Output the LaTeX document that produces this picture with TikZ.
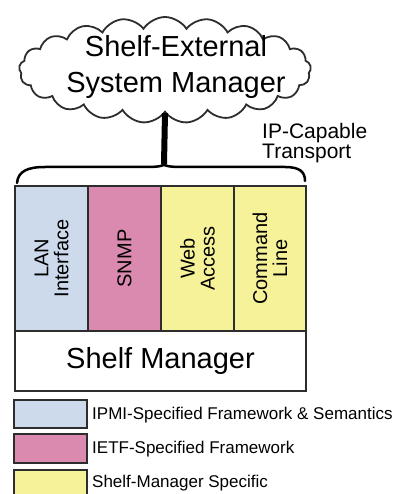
\documentclass[tikz,border=0pt]{standalone}
\usepackage{fontspec}
\setmainfont{Liberation Sans}
\usetikzlibrary{shapes.symbols}
\definecolor{ipmi}{RGB}{204,218,236}
\definecolor{ietf}{RGB}{217,138,174}
\definecolor{smspec}{RGB}{246,242,154}
\definecolor{edge}{RGB}{45,45,45}
\begin{document}
\begin{tikzpicture}[x=1pt,y=-1pt,
  colbox/.style={draw=edge, line width=1.4pt, rotate=90, minimum width=145pt,
    minimum height=73pt, inner sep=0pt, align=center,
    font=\fontsize{20}{20}\selectfont},
  keybox/.style={draw=edge, line width=1.4pt, minimum width=73pt,
    minimum height=28pt, inner sep=0pt},
  keytext/.style={anchor=west, inner sep=0pt, font=\fontsize{17}{20}\selectfont}]
\useasboundingbox (0,0) rectangle (397,494);

% external manager cloud
\node[cloud, draw=edge, line width=1.8pt, cloud puffs=21, cloud puff arc=115,
  cloud ignores aspect, minimum width=292pt, minimum height=106pt] (ext) at (165,70) {};
\node[align=center, inner sep=0pt, font=\fontsize{29}{36}\selectfont] (extlabel)
  at (176,67) {Shelf-External\\System Manager};

% transport stem and brace
\coordinate (btop) at (164,164);
\draw[line width=6pt] (ext.south) -- (btop);
\draw[line width=2.5pt, line cap=round]
  (17,183) .. controls (18,171) and (28,167) .. (45,167) -- (145,167)
  .. controls (158,167) and (164,166) .. (btop)
  .. controls (164,166) and (170,167) .. (183,167) -- (285,167)
  .. controls (300,167) and (305,172) .. (305,181);
\node[align=left, anchor=west, inner sep=0pt, font=\fontsize{21}{20}\selectfont]
  (transport) at (262,143) {IP-Capable\\Transport};

% interface columns
\node[colbox, fill=ipmi] (lan) at (51.5,258.5) {LAN\\Interface};
\node[colbox, fill=ietf] (snmp) at (124.5,258.5) {SNMP};
\node[colbox, fill=smspec] (web) at (197.5,258.5) {Web\\Access};
\node[colbox, fill=smspec, minimum height=72pt] (cli) at (270,258.5) {Command\\Line};

% shelf manager base
\node[draw=edge, line width=1.4pt, fill=white, minimum width=291pt, minimum height=60pt,
  inner sep=0pt, font=\fontsize{29}{32}\selectfont] (shm) at (160.5,361) {Shelf Manager};

% legend
\node[keybox, fill=ipmi] (k1) at (50.5,414) {};
\node[keybox, fill=ietf, minimum height=29pt] (k2) at (50.5,448.5) {};
\node[keybox, fill=smspec, minimum height=32pt] (k3) at (50.5,486) {};
\node[keytext] (t1) at (92,415) {IPMI-Specified Framework \& Semantics};
\node[keytext] (t2) at (92,449) {IETF-Specified Framework};
\node[keytext] (t3) at (92,483) {Shelf-Manager Specific};
\end{tikzpicture}
\end{document}
